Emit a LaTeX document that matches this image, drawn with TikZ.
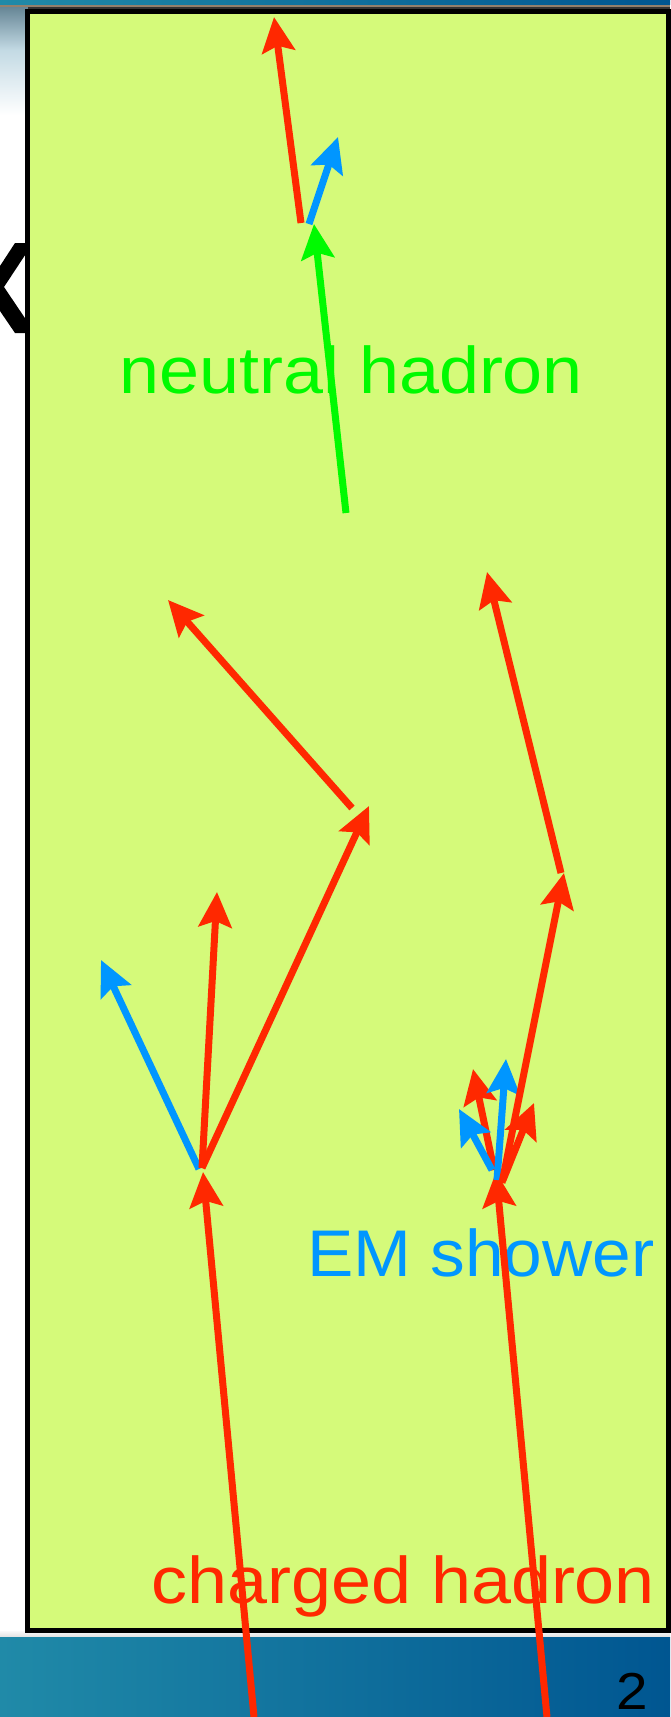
\documentclass[tikz,border=0pt]{standalone}
\usepackage{fontspec}
\setmainfont{Liberation Sans}[FakeStretch=1.09]
\usetikzlibrary{arrows.meta}
\definecolor{boxfill}{RGB}{213,250,122}
\definecolor{hred}{RGB}{255,40,0}
\definecolor{hblue}{RGB}{0,150,255}
\definecolor{hgreen}{RGB}{0,250,0}
\definecolor{barleft}{RGB}{32,138,168}
\definecolor{barright}{RGB}{0,86,145}
\definecolor{topgray}{RGB}{100,132,148}
\definecolor{topmid}{RGB}{195,218,228}
\tikzset{
  trk/.style={line width=7pt, -{Stealth[length=35pt,width=33pt,inset=6pt]}},
  redtrk/.style={trk, draw=hred, color=hred},
  bluetrk/.style={trk, draw=hblue, color=hblue},
  greentrk/.style={trk, draw=hgreen, color=hgreen},
  lbl/.style={inner sep=0pt, anchor=base west, font=\fontsize{66}{70}\selectfont}
}
\begin{document}
\begin{tikzpicture}[x=1pt,y=-1pt]
\useasboundingbox (0,0) rectangle (670,1717);
% background
\fill[white] (0,0) rectangle (670,1717);
\shade[top color=topgray, bottom color=topmid] (0,6) rectangle (28,50);
\shade[top color=topmid, bottom color=white] (0,50) rectangle (28,115);
\shade[left color=barleft, right color=barright] (0,0) rectangle (670,4.5);
\fill[gray!70!brown] (0,4.5) rectangle (670,6.5);
\fill[black!80] (28,6.5) rectangle (670,9);
\shade[top color=gray!5, bottom color=gray!25] (0,1631) rectangle (670,1637.5);
\shade[left color=barleft, right color=barright] (0,1637.5) rectangle (670,1717);
% partial letter behind the box
\fill[black] (15,243) -- (33,243) -- (4,287) -- (35,333) -- (15,333) -- (0,311) -- (0,266) -- cycle;
% detector box
\draw[line width=5pt, fill=boxfill] (27.5,11.5) rectangle (668.5,1630.5);
% page number
\node[inner sep=0pt, anchor=base west, font=\fontsize{52}{56}\selectfont] (pg) at (616,1709) {2};
% labels
\node[lbl, text=hgreen] (nh) at (119,393) {neutral hadron};
\node[lbl, text=hblue] (em) at (307,1276) {\scalebox{0.965}[1]{EM shower}};
\node[lbl, text=hred] (ch) at (151,1603) {charged hadron};
% coordinates
\coordinate (inL) at (254,1717);
\coordinate (vL) at (203,1172);
\coordinate (vLb) at (202,1168);
\coordinate (vLc) at (199,1169);
\coordinate (t1) at (217,892);
\coordinate (t2) at (369,806);
\coordinate (t2b) at (352,808);
\coordinate (t3) at (168,600);
\coordinate (b2) at (101,960);
\coordinate (inR) at (547,1717);
\coordinate (vR) at (496,1172);
\coordinate (vRb) at (502,1183);
\coordinate (k1) at (564,873);
\coordinate (k1b) at (561,873);
\coordinate (k2) at (487,572);
\coordinate (s0) at (494,1170);
\coordinate (s1) at (473,1069);
\coordinate (s2a) at (497,1180);
\coordinate (s2) at (506,1059);
\coordinate (s3a) at (492,1170);
\coordinate (s3) at (459,1109);
\coordinate (s4a) at (503,1180);
\coordinate (s4) at (534,1103);
\coordinate (n0) at (346,513);
\coordinate (n1) at (314,224);
\coordinate (n1r) at (301,223);
\coordinate (n1b) at (309,224);
\coordinate (tr) at (274,17);
\coordinate (tb) at (338,137);
% left charged hadron
\draw[redtrk] (inL) -- (vL);
\draw[bluetrk] (vLc) -- (b2);
\draw[redtrk] (vLb) -- (t1);
\draw[redtrk] (vLb) -- (t2);
\draw[redtrk] (t2b) -- (t3);
% right charged hadron with EM shower
\draw[redtrk] (inR) -- (vR);
\draw[redtrk] (s0) -- (s1);
\draw[bluetrk] (s3a) -- (s3);
\draw[bluetrk] (s2a) -- (s2);
\draw[redtrk] (s4a) -- (s4);
\draw[redtrk] (vRb) -- (k1);
\draw[redtrk] (k1b) -- (k2);
% neutral hadron
\draw[greentrk] (n0) -- (n1);
\draw[redtrk] (n1r) -- (tr);
\draw[bluetrk] (n1b) -- (tb);
\end{tikzpicture}
\end{document}
